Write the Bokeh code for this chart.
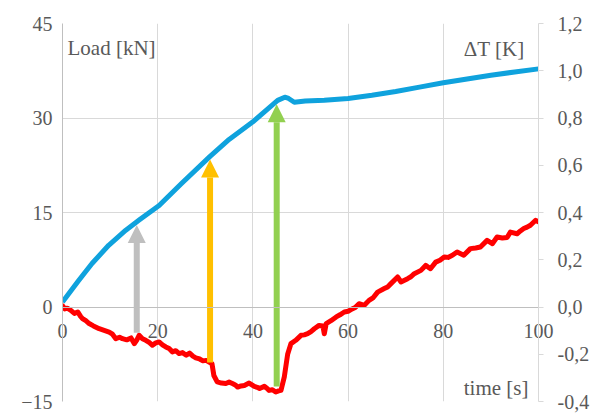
from bokeh.plotting import figure
from bokeh.models import (Range1d, LinearAxis, FixedTicker, CustomJSTickFormatter,
                          Arrow, NormalHead, Label)
from bokeh.embed import file_html
from bokeh.resources import INLINE

# ---- data ----
x_ticks = [0, 20, 40, 60, 80, 100]
load_ticks = [-15, 0, 15, 30, 45]
dt_ticks = [-0.4, -0.2, 0.0, 0.2, 0.4, 0.6, 0.8, 1.0, 1.2]

load_time = [0, 3.4, 6.2, 9.7, 13.3, 16.1, 20.3, 25, 31, 35, 40, 45.2, 46.7, 47.5,
             48.7, 51, 55, 60, 65, 70, 75, 80, 85, 90, 95, 100]
load_kn = [0.8, 4.2, 6.9, 9.8, 12.2, 13.8, 16.1, 19.6, 23.9, 26.6, 29.4, 32.8, 33.3, 33.1,
           32.5, 32.7, 32.8, 33.1, 33.6, 34.2, 34.9, 35.6, 36.2, 36.8, 37.3, 37.8]

dt_time = [0, 0.5, 1.0, 1.75, 2.5, 3.2, 3.8, 4.2, 4.9, 5.6, 6.5, 7.7, 8.6, 9.8, 10.5, 11.2,
           12.0, 12.6, 13.5, 14.4, 15.1, 15.6, 16.1, 16.8, 17.5, 18.2, 18.9, 19.6, 20.3,
           21.0, 21.7, 22.4, 23.1, 23.8, 24.5, 25.2, 26.0, 26.7, 27.4, 28.0, 28.8, 29.5,
           30.2, 30.8, 31.4, 31.8, 32.5, 33.4, 34.3, 35.0, 35.7, 36.3, 36.8, 37.5, 38.2,
           39.2, 40.3, 40.9, 41.4, 42.4, 43.0, 43.4, 44.1, 44.8, 45.4, 45.9, 46.6, 47.3,
           48.0, 49.0, 50.1, 50.8, 51.5, 52.2, 52.9, 53.9, 54.7, 55.0, 55.4, 56.4, 57.5,
           58.3, 59.2, 60.0, 60.6, 61.5, 62.3, 63.4, 64.4, 65.3, 66.2, 67.6, 68.3, 69.0,
           70.4, 71.1, 72.5, 73.2, 73.9, 75.3, 76.3, 77.3, 78.4, 79.3, 80.2, 81.0, 81.9,
           82.9, 84.3, 85.7, 86.8, 87.8, 89.2, 90.3, 91.3, 92.4, 93.4, 94.1, 95.5, 96.2,
           96.9, 97.6, 98.3, 99.4, 100.0]
dt_k = [0.005, -0.008, -0.005, -0.014, -0.027, -0.021, -0.040, -0.049, -0.058, -0.070,
        -0.080, -0.092, -0.098, -0.106, -0.115, -0.134, -0.128, -0.134, -0.139, -0.131,
        -0.155, -0.140, -0.120, -0.134, -0.141, -0.150, -0.162, -0.152, -0.148, -0.160,
        -0.169, -0.176, -0.190, -0.185, -0.197, -0.193, -0.204, -0.195, -0.208, -0.215,
        -0.220, -0.228, -0.226, -0.233, -0.240, -0.290, -0.317, -0.322, -0.324, -0.318,
        -0.324, -0.330, -0.339, -0.334, -0.332, -0.322, -0.336, -0.340, -0.345, -0.336,
        -0.345, -0.353, -0.350, -0.360, -0.355, -0.353, -0.296, -0.200, -0.155, -0.141,
        -0.120, -0.118, -0.113, -0.104, -0.092, -0.078, -0.080, -0.113, -0.070, -0.058,
        -0.042, -0.033, -0.021, -0.018, -0.011, -0.002, 0.014, 0.007, 0.028, 0.040,
        0.063, 0.078, 0.085, 0.099, 0.127, 0.106, 0.120, 0.128, 0.141, 0.155, 0.176,
        0.162, 0.190, 0.198, 0.212, 0.210, 0.219, 0.233, 0.219, 0.247, 0.250, 0.254,
        0.282, 0.268, 0.296, 0.292, 0.294, 0.317, 0.310, 0.322, 0.332, 0.338, 0.346,
        0.367, 0.360]

arrow_time = [15.6, 31.0, 45.0]
arrow_from = [-4.1, -8.8, -12.6]
arrow_to = [13.0, 23.4, 32.2]
arrow_colors = ["#BFBFBF", "#FFC000", "#92D050"]

# ---- styles ----
FONT = "Times New Roman"
TXT = "#595959"
GRID = "#D9D9D9"
AXIS = "#BFBFBF"

p = figure(width=601, height=413, output_backend="svg", toolbar_location=None,
           x_range=Range1d(0, 100), y_range=Range1d(-15, 45),
           min_border_left=62, min_border_right=63, min_border_top=23, min_border_bottom=12)
p.outline_line_color = None
p.background_fill_color = "white"
p.border_fill_color = "white"

p.extra_y_ranges = {"dt": Range1d(-0.4, 1.2)}

# grids
p.xgrid.ticker = FixedTicker(ticks=x_ticks)
p.ygrid.ticker = FixedTicker(ticks=load_ticks)
for g in (p.xgrid[0], p.ygrid[0]):
    g.grid_line_color = GRID
    g.grid_line_width = 1


def no_ticks(ax):
    ax.major_tick_out = 0
    ax.major_tick_in = 0
    ax.minor_tick_out = 0
    ax.minor_tick_in = 0


# axis line crossing at load = 0 (no labels; they are drawn by the outer axis)
xa = p.xaxis[0]
xa.ticker = FixedTicker(ticks=x_ticks)
xa.fixed_location = 0
xa.axis_line_color = AXIS
no_ticks(xa)
xa.major_label_text_alpha = 0

# outer bottom axis that only carries the labels, lifted up to the load = 0 line
xb = LinearAxis(ticker=FixedTicker(ticks=x_ticks))
xb.axis_line_color = None
no_ticks(xb)
xb.major_label_standoff = -78
xb.major_label_text_font = FONT
xb.major_label_text_font_size = "20px"
xb.major_label_text_color = TXT
p.add_layout(xb, "below")

ya = p.yaxis[0]
ya.ticker = FixedTicker(ticks=load_ticks)
ya.axis_line_color = AXIS
no_ticks(ya)
ya.major_label_standoff = 10
ya.major_label_text_font = FONT
ya.major_label_text_font_size = "20px"
ya.major_label_text_color = TXT

ra = LinearAxis(y_range_name="dt", ticker=FixedTicker(ticks=dt_ticks),
                formatter=CustomJSTickFormatter(code="return tick.toFixed(1).replace('.', ',');"))
ra.axis_line_color = GRID
ra.major_tick_line_color = GRID
no_ticks(ra)
ra.major_tick_out = 5
ra.major_label_standoff = 14
ra.major_label_text_font = FONT
ra.major_label_text_font_size = "20px"
ra.major_label_text_color = TXT
p.add_layout(ra, "right")

# arrows
for t, y0, y1, c in zip(arrow_time, arrow_from, arrow_to, arrow_colors):
    arr = Arrow(end=NormalHead(size=18, fill_color=c, line_color=None),
                x_start=t, y_start=y0, x_end=t, y_end=y1,
                line_color=c, line_width=6, level="glyph")
    p.add_layout(arr)

# series
p.line(load_time, load_kn, line_color="#0FA2DD", line_width=5, line_join="round")
p.line(dt_time, dt_k, y_range_name="dt", line_color="#FF0000", line_width=5,
       line_join="round", line_cap="round")

# annotation texts
lab_kw = dict(text_font=FONT, text_font_size="21px", text_color=TXT, text_baseline="alphabetic")
p.add_layout(Label(x=0, y=45, x_offset=5, y_offset=-24, text="Load [kN]", **lab_kw))
p.add_layout(Label(x=100, y=45, x_offset=-14, y_offset=-25, text="ΔT [K]",
                   text_align="right", **lab_kw))
p.add_layout(Label(x=100, y=-15, x_offset=-10, y_offset=14, text="time [s]",
                   text_align="right", **lab_kw))

open("out.html", "w").write(file_html(p, INLINE))
